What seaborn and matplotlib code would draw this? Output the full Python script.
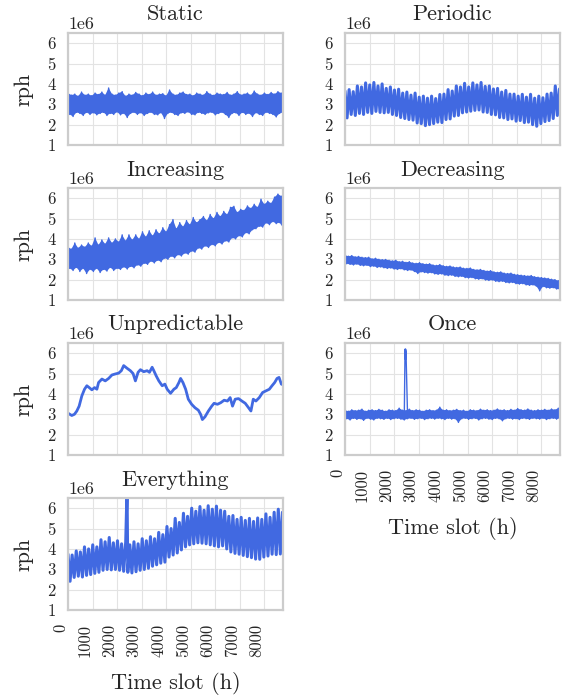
import numpy as np
import pandas as pd
import seaborn as sns
import matplotlib.pyplot as plt

# ---------------- data (values in millions of requests per hour) ----------------
titles = ["Static", "Periodic", "Increasing", "Decreasing", "Unpredictable", "Once", "Everything"]
x_ticks = [0, 1000, 2000, 3000, 4000, 5000, 6000, 7000, 8000]
y_ticks = [1, 2, 3, 4, 5, 6]

static_hi = [3.55, 3.45, 3.5, 3.4, 3.6, 3.45, 3.5, 3.42, 3.55, 3.48, 3.6, 3.45, 3.8, 3.5, 3.45, 3.55,
             3.62, 3.4, 3.5, 3.45, 3.58, 3.5, 3.42, 3.55, 3.48, 3.6, 3.45, 3.5, 3.52, 3.42, 3.7, 3.5,
             3.45, 3.55, 3.6, 3.48, 3.5, 3.42, 3.55, 3.5, 3.45, 3.62, 3.5, 3.44, 3.55, 3.5, 3.48, 3.58,
             3.45, 3.5, 3.62, 3.46, 3.5, 3.55, 3.45, 3.65, 3.5, 3.45, 3.55, 3.48, 3.58, 3.5, 3.62, 3.55]
static_lo = [2.5, 2.4, 2.6, 2.55, 2.45, 2.6, 2.5, 2.58, 2.48, 2.55, 2.6, 2.45, 2.55, 2.5, 2.62, 2.48,
             2.55, 2.35, 2.55, 2.6, 2.5, 2.58, 2.45, 2.55, 2.6, 2.5, 2.48, 2.58, 2.3, 2.55, 2.6, 2.5,
             2.45, 2.58, 2.55, 2.62, 2.5, 2.48, 2.6, 2.55, 2.5, 2.58, 2.6, 2.48, 2.55, 2.6, 2.5, 2.35,
             2.55, 2.58, 2.45, 2.6, 2.5, 2.55, 2.4, 2.58, 2.5, 2.45, 2.6, 2.55, 2.5, 2.38, 2.55, 2.6]

periodic_hi = [3.65, 3.72, 3.62, 3.9, 3.85, 4.05, 3.95, 4.07, 3.9, 4.0, 3.78, 3.85, 3.7, 3.74, 3.55,
               3.6, 3.45, 3.55, 3.35, 3.4, 3.3, 3.4, 3.28, 3.48, 3.5, 3.72, 3.65, 3.9, 3.85, 4.03,
               3.85, 4.05, 3.95, 4.07, 3.88, 3.9, 3.75, 3.78, 3.6, 3.68, 3.5, 3.5, 3.4, 3.49, 3.35,
               3.49, 3.3, 3.4, 3.32, 3.5, 3.55, 3.9, 3.75]
periodic_lo = [2.33, 2.5, 2.45, 2.55, 2.5, 2.6, 2.55, 2.65, 2.6, 2.58, 2.6, 2.5, 2.45, 2.35, 2.3,
               2.25, 2.22, 2.08, 2.05, 1.95, 2.0, 2.05, 2.12, 2.1, 2.25, 2.28, 2.42, 2.45, 2.58, 2.62,
               2.66, 2.7, 2.72, 2.62, 2.6, 2.5, 2.48, 2.35, 2.33, 2.25, 2.28, 2.17, 2.2, 2.1, 2.12,
               2.0, 1.92, 2.05, 2.15, 2.2, 2.3, 2.45, 2.5]

increasing_hi = [3.6, 3.5, 3.8, 3.55, 3.7, 3.6, 3.8, 3.65, 4.05, 3.7, 3.95, 3.75, 4.05, 3.8, 4.0, 3.85,
                 4.2, 3.9, 4.2, 3.95, 4.2, 4.0, 4.35, 4.1, 4.4, 4.15, 4.45, 4.25, 4.55, 4.35, 4.7, 4.95,
                 4.5, 4.8, 4.6, 4.9, 4.7, 5.05, 4.8, 4.95, 5.1, 4.9, 5.2, 5.0, 5.3, 5.1, 5.35, 5.2,
                 5.55, 5.6, 5.3, 5.45, 5.4, 5.62, 5.5, 5.7, 5.55, 5.95, 5.7, 5.85, 5.75, 6.05, 6.2, 6.1]
increasing_lo = [2.55, 2.45, 2.6, 2.4, 2.55, 2.3, 2.5, 2.4, 2.55, 2.35, 2.5, 2.42, 2.6, 2.45, 2.55, 2.5,
                 2.62, 2.52, 2.65, 2.58, 2.72, 2.66, 2.8, 2.75, 2.9, 2.82, 2.95, 2.88, 3.05, 3.0, 3.15, 3.07,
                 3.22, 3.16, 3.3, 3.25, 3.4, 3.35, 3.55, 3.5, 3.65, 3.58, 3.72, 3.66, 3.82, 3.75, 3.9, 3.85,
                 4.05, 4.0, 4.15, 4.1, 4.3, 4.25, 4.45, 4.5, 4.62, 4.58, 4.78, 4.7, 4.85, 4.75, 4.8, 4.55]

decreasing_hi = [3.2, 3.15, 3.18, 3.12, 3.14, 3.1, 3.08, 3.1, 3.02, 3.05, 3.0, 2.98, 2.99, 2.95, 2.92, 2.95,
                 2.88, 2.9, 2.85, 2.88, 2.82, 2.8, 2.83, 2.78, 2.76, 2.78, 2.72, 2.7, 2.74, 2.68, 2.65, 2.67,
                 2.62, 2.6, 2.62, 2.56, 2.55, 2.57, 2.5, 2.48, 2.5, 2.45, 2.42, 2.44, 2.38, 2.36, 2.38, 2.32,
                 2.3, 2.32, 2.26, 2.24, 2.22, 2.2, 2.18, 2.2, 2.14, 2.12, 2.1, 2.08, 2.06, 2.02, 2.0, 1.95]
decreasing_lo = [2.78, 2.75, 2.72, 2.76, 2.7, 2.68, 2.7, 2.64, 2.66, 2.6, 2.62, 2.58, 2.55, 2.57, 2.52, 2.5,
                 2.53, 2.48, 2.45, 2.47, 2.4, 2.3, 2.38, 2.35, 2.32, 2.34, 2.28, 2.26, 2.28, 2.22, 2.2, 2.22,
                 2.16, 2.14, 2.16, 2.1, 2.08, 2.1, 2.04, 2.02, 2.04, 1.98, 1.96, 1.98, 1.92, 1.9, 1.92, 1.86,
                 1.84, 1.86, 1.8, 1.78, 1.8, 1.74, 1.72, 1.74, 1.68, 1.45, 1.66, 1.6, 1.58, 1.6, 1.54, 1.52]

unpredictable_hours = [18, 154, 263, 359, 454, 563, 673, 768, 864, 973, 1082, 1177, 1246, 1382, 1519, 1655,
                       1791, 1928, 2064, 2173, 2269, 2405, 2542, 2651, 2746, 2855, 2951, 3087, 3223, 3319,
                       3428, 3497, 3592, 3701, 3838, 3947, 4042, 4179, 4315, 4411, 4520, 4588, 4683, 4793,
                       4902, 5038, 5175, 5311, 5407, 5475, 5584, 5720, 5857, 5952, 6089, 6225, 6362, 6498,
                       6607, 6703, 6812, 6948, 7085, 7221, 7357, 7453, 7548, 7657, 7794, 7930, 8067, 8203,
                       8312, 8421, 8517, 8599, 8694, 8760]
unpredictable_vals = [3.04, 2.94, 3.0, 3.16, 3.4, 3.9, 4.23, 4.4, 4.31, 4.2, 4.31, 4.23, 4.56, 4.73, 4.64,
                      4.76, 4.93, 4.98, 5.02, 5.14, 5.39, 5.26, 5.14, 5.0, 4.64, 5.06, 5.19, 5.09, 5.14,
                      5.06, 5.31, 5.14, 4.89, 4.64, 4.4, 4.48, 4.23, 4.03, 4.23, 4.31, 4.56, 4.76, 4.56,
                      4.23, 3.74, 3.49, 3.32, 3.2, 2.99, 2.74, 2.88, 3.16, 3.4, 3.54, 3.49, 3.57, 3.69,
                      3.65, 3.82, 3.4, 3.74, 3.77, 3.65, 3.54, 3.32, 3.16, 3.74, 3.65, 3.82, 4.07, 4.15,
                      4.23, 4.4, 4.56, 4.76, 4.81, 4.48, 4.45]

once_hi = [3.2, 3.15, 3.22, 3.18, 3.2, 3.25, 3.15, 3.2, 3.22, 3.18, 3.24, 3.2, 3.15, 3.22, 3.2, 3.18,
           3.3, 3.2, 3.2, 3.25, 3.18, 3.22, 3.2, 3.15, 3.2, 3.22, 3.18, 3.2, 3.35, 3.2, 3.22, 3.18,
           3.2, 3.24, 3.18, 3.2, 3.15, 3.22, 3.2, 3.18, 3.25, 3.2, 3.22, 3.18, 3.2, 3.26, 3.2, 3.22,
           3.18, 3.24, 3.2, 3.28, 3.22, 3.2, 3.26, 3.2, 3.18, 3.22, 3.2, 3.24, 3.2, 3.26, 3.22, 3.3]
once_lo = [2.78, 2.72, 2.8, 2.75, 2.78, 2.7, 2.8, 2.76, 2.72, 2.8, 2.78, 2.75, 2.8, 2.74, 2.78, 2.8,
           2.76, 2.72, 2.78, 2.8, 2.75, 2.78, 2.8, 2.74, 2.78, 2.8, 2.76, 2.8, 2.78, 2.74, 2.8, 2.76,
           2.78, 2.6, 2.78, 2.8, 2.75, 2.78, 2.8, 2.72, 2.78, 2.8, 2.76, 2.74, 2.8, 2.78, 2.68, 2.78,
           2.8, 2.76, 2.78, 2.74, 2.8, 2.78, 2.75, 2.8, 2.78, 2.76, 2.8, 2.74, 2.78, 2.8, 2.76, 2.8]
once_spike_hours = [2446, 2452, 2458, 2464, 2470, 2476, 2482, 2488]
once_spike_vals = [6.2, 5.75, 6.15, 5.7, 6.2, 5.8, 6.1, 5.9]

everything_hi = [3.74, 3.7, 3.9, 3.85, 4.1, 4.0, 4.2, 4.1, 4.45, 4.35, 4.56, 4.3, 4.4, 4.25, 4.35, 4.2,
                 4.35, 4.25, 4.5, 4.4, 4.6, 4.5, 4.81, 4.7, 5.1, 5.0, 5.5, 5.3, 5.75, 5.6, 6.0, 5.85,
                 6.08, 5.9, 6.12, 5.95, 6.1, 5.9, 5.85, 5.6, 5.64, 5.45, 5.55, 5.4, 5.5, 5.35, 5.52,
                 5.45, 5.72, 5.55, 5.8, 5.95, 5.8]
everything_lo = [2.41, 2.6, 2.66, 2.62, 2.7, 2.74, 2.8, 2.85, 2.95, 2.99, 2.97, 2.99, 2.95, 2.9, 2.85,
                 2.82, 2.88, 2.95, 2.99, 3.05, 3.15, 3.22, 3.3, 3.35, 3.6, 3.7, 3.8, 3.95, 4.1, 4.2,
                 4.25, 4.3, 4.28, 4.25, 4.2, 4.15, 4.1, 4.15, 4.0, 3.85, 3.78, 3.74, 3.68, 3.62, 3.57,
                 3.5, 3.49, 3.6, 3.65, 3.74, 3.72, 3.75, 4.07]
everything_spike_hour = [2405]
everything_spike_val = [6.9]

HOURS = 8760
WEEK = 168
BLUE = "royalblue"


def zigzag(hi, lo, period):
    n = min(len(hi), len(lo))
    xh = np.arange(n) * period
    xl = xh + period / 2
    x = np.ravel(np.column_stack([xh, xl]))
    y = np.ravel(np.column_stack([hi[:n], lo[:n]]))
    return x, y


def noise_band(hi, lo):
    n = min(len(hi), len(lo))
    return zigzag(hi, lo, HOURS / (n - 0.5))


series = {}
bands = {}
series["Static"] = noise_band(static_hi, static_lo)
series["Periodic"] = zigzag(periodic_hi, periodic_lo, WEEK)
series["Increasing"] = noise_band(increasing_hi, increasing_lo)
series["Decreasing"] = noise_band(decreasing_hi, decreasing_lo)
series["Unpredictable"] = (np.array(unpredictable_hours, float), np.array(unpredictable_vals))
ox, oy = noise_band(once_hi, once_lo)
bands["Once"] = (ox, oy)
for name in ("Static", "Increasing", "Decreasing"):
    bands[name] = series[name]
keep = (ox < once_spike_hours[0] - 2) | (ox > once_spike_hours[-1] + 2)
series["Once"] = (np.concatenate([ox[keep], once_spike_hours]),
                  np.concatenate([oy[keep], once_spike_vals]))
ex, ey = zigzag(everything_hi, everything_lo, WEEK)
series["Everything"] = (np.concatenate([ex, everything_spike_hour]),
                        np.concatenate([ey, everything_spike_val]))

# ---------------- style ----------------
sns.set_theme(style="whitegrid")
plt.rcParams.update({
    "font.family": ["cmr10", "DejaVu Serif"],
    "axes.formatter.use_mathtext": False,
    "axes.unicode_minus": False,
    "axes.edgecolor": "#cccccc",
    "axes.linewidth": 1.6,
    "grid.color": "#e3e3e3",
    "grid.linewidth": 0.8,
})

fig, axes = plt.subplots(4, 2, figsize=(5.64, 6.99), dpi=100)
fig.subplots_adjust(left=68 / 564, right=560 / 564, top=1 - 33 / 699, bottom=1 - 610 / 699,
                    wspace=62 / 215, hspace=43 / 112)

positions = [(0, 0), (0, 1), (1, 0), (1, 1), (2, 0), (2, 1), (3, 0)]
axes[3, 1].remove()

for title, (r, c) in zip(titles, positions):
    ax = axes[r, c]
    x, y = series[title]
    df = pd.DataFrame({"hour": x, "rph": np.asarray(y) * 1e6})
    if title in bands:
        bx, by = bands[title]
        by = np.asarray(by) * 1e6
        px = np.concatenate([bx[0::2], bx[1::2][::-1]])
        py = np.concatenate([by[0::2], by[1::2][::-1]])
        ax.fill(px, py, color=BLUE, lw=0, zorder=2)
        lw = 1.0
    elif title == "Unpredictable":
        lw = 2.0
    else:
        lw = 2.2
    sns.lineplot(data=df, x="hour", y="rph", ax=ax, color=BLUE, linewidth=lw,
                 estimator=None, sort=True, zorder=3)
    ax.set_xlim(0, HOURS)
    ax.set_ylim(1e6, 6.5e6)
    ax.set_xticks(x_ticks)
    ax.set_yticks([v * 1e6 for v in y_ticks])
    ax.tick_params(axis="both", length=0, labelsize=12)
    ax.tick_params(axis="y", pad=9)
    ax.tick_params(axis="x", pad=10)
    ax.yaxis.get_offset_text().set_fontsize(13)
    ax.set_title(title, fontsize=16, pad=9)
    if c == 0:
        ax.set_ylabel("rph", fontsize=16, labelpad=10)
    else:
        ax.set_ylabel("")
    if title in ("Everything", "Once"):
        ax.set_xlabel("Time slot (h)", fontsize=16, labelpad=11)
        for lab in ax.get_xticklabels():
            lab.set_rotation(90)
            lab.set_ha("right")
            lab.set_va("top")
    else:
        ax.set_xlabel("")
        ax.set_xticklabels([])
    for s in ax.spines.values():
        s.set_color("#cccccc")
        s.set_linewidth(1.6)
        s.set_zorder(4)

fig.savefig("out.png", dpi=100)
